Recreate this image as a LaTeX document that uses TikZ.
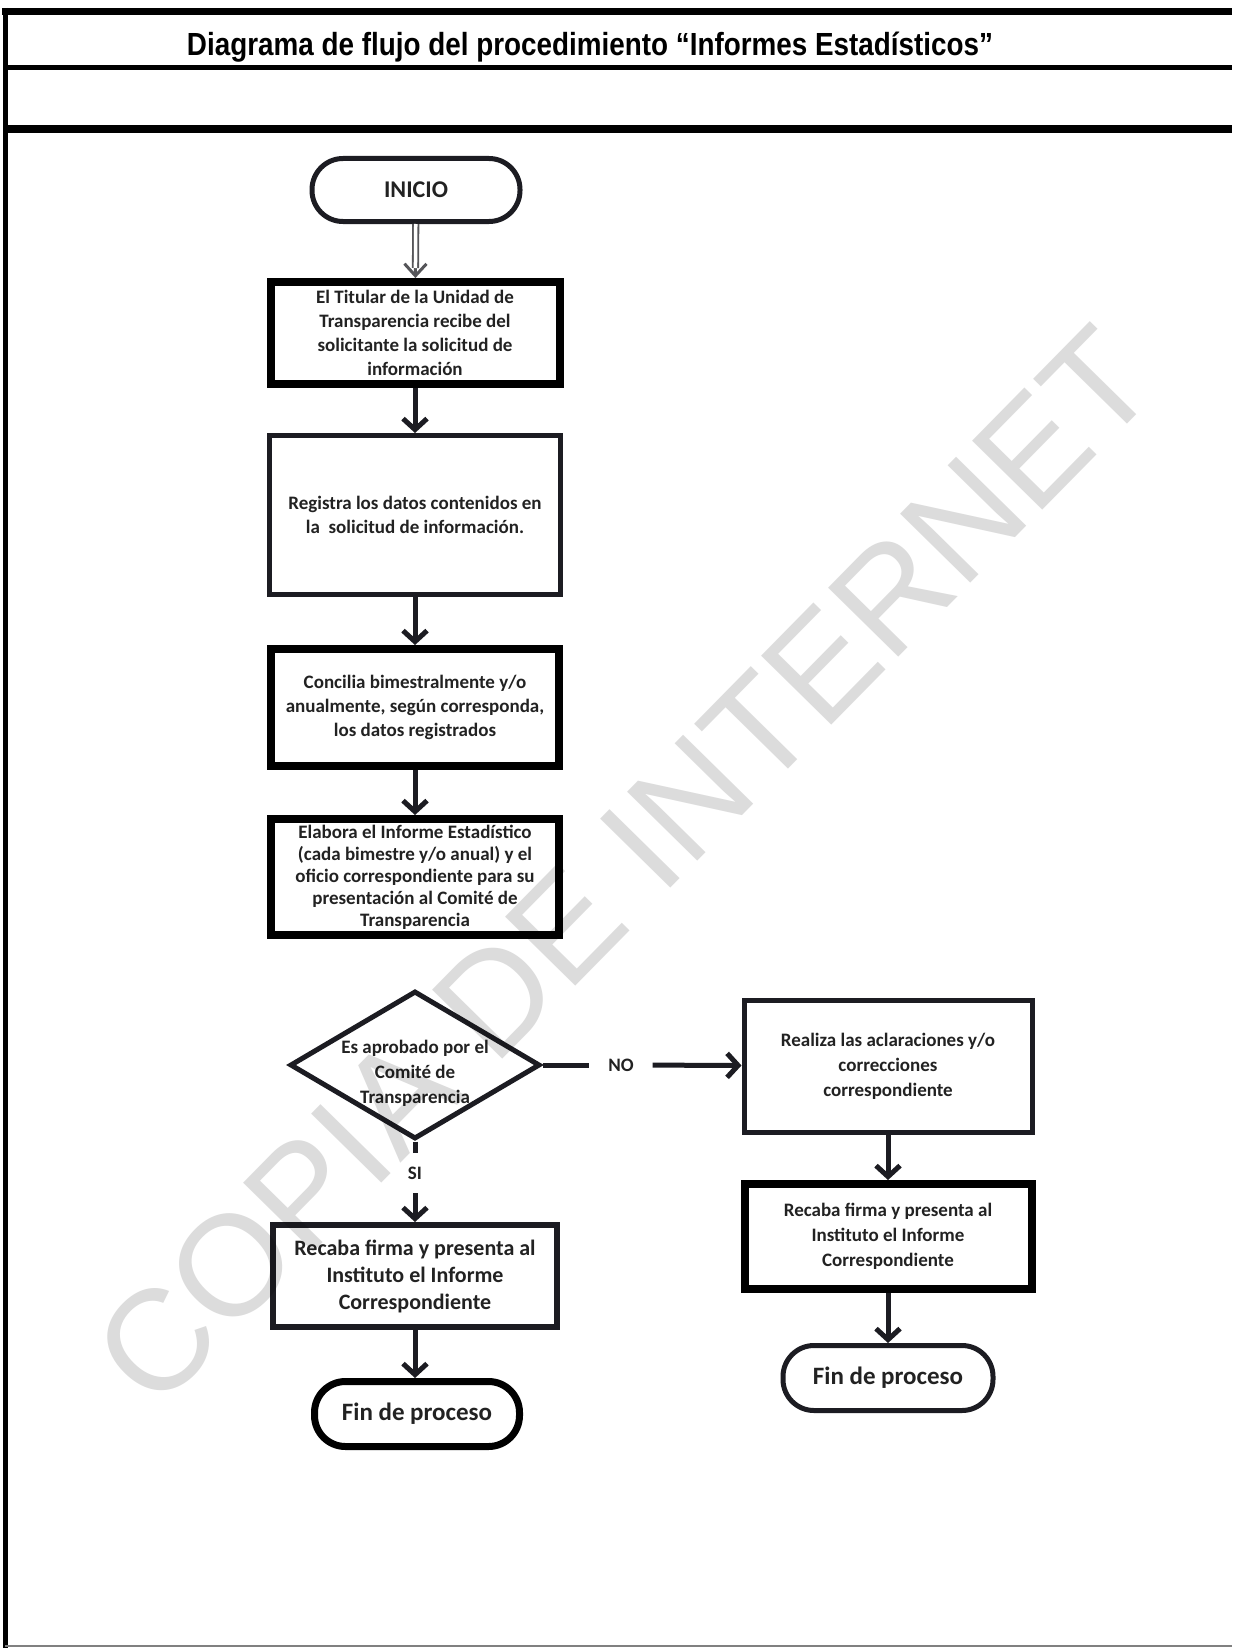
\documentclass[tikz,border=0pt]{standalone}
\usepackage{fontspec}
\usepackage{graphicx}
\setmainfont{Carlito}
\newfontfamily\headfont[FakeStretch=0.87]{Liberation Sans}
\newfontfamily\markfont{Liberation Sans}
\usetikzlibrary{arrows.meta,shapes.geometric}
\definecolor{ink}{HTML}{1C1C22}
\definecolor{txt}{HTML}{222222}
\definecolor{stamp}{HTML}{DCDCDC}

\begin{document}
\begin{tikzpicture}[x=1pt,y=-1pt,
  every node/.style={inner sep=0pt, align=center, text=txt},
  body/.style={font=\bfseries\fontsize{19}{24}\selectfont},
  proc/.style={draw=ink, rectangle, line width=5pt, body},
  heavyproc/.style={proc, draw=black, line width=8pt},
  term/.style={draw=ink, rectangle, line width=5pt, rounded corners=31pt,
    font=\bfseries\fontsize{25}{30}\selectfont},
  decision/.style={draw=ink, diamond, line width=5pt,
    minimum width=250pt, minimum height=148pt},
  flow/.style={draw=ink, line width=5pt, -{Straight Barb[length=11pt,width=24pt]}},
  flowplain/.style={draw=ink, line width=5pt},
  tag/.style={fill=white, font=\bfseries\fontsize{19}{24}\selectfont},
  rule/.style={draw=black, line cap=butt}]

\useasboundingbox (0,0) rectangle (1232,1648);
\fill[white] (0,0) rectangle (1232,1648);

% page frame and header rows
\draw[rule, line width=7pt] (2,11.5) -- (1232,11.5);
\draw[rule, line width=5pt] (5,68) -- (1232,68);
\draw[rule, line width=8pt] (5,129) -- (1232,129);
\draw[rule, line width=5pt] (5,8) -- (5,1648);
\draw[gray, line width=2pt] (5,1646) -- (1232,1646);

\node[anchor=base, text=black] (title) at (590,56)
  {\resizebox{806pt}{!}{\headfont\bfseries\fontsize{24}{28}\selectfont
   Diagrama de flujo del procedimiento “Informes Estadísticos”}};

% left column
\node[term, minimum width=208pt, minimum height=63pt,
  font=\bfseries\fontsize{24}{28}\selectfont] (inicio) at (416,190) {INICIO};

\node[heavyproc, minimum width=289pt, minimum height=102pt] (b1) at (415,333)
  {El Titular de la Unidad de\\Transparencia recibe del\\solicitante la solicitud de\\información};

\node[proc, minimum width=291pt, minimum height=159pt] (b2) at (415,515)
  {Registra los datos contenidos en\\la\ \ solicitud de información.};

\node[heavyproc, minimum width=288pt, minimum height=117pt] (b3) at (415,707.5)
  {Concilia bimestralmente y/o\\anualmente, según corresponda,\\los datos registrados};

\node[heavyproc, minimum width=288pt, minimum height=116pt,
  font=\bfseries\fontsize{19}{22}\selectfont] (b4) at (415,877)
  {Elabora el Informe Estadístico\\(cada bimestre y/o anual) y el\\oficio correspondiente para su\\presentación al Comité de\\Transparencia};

\node[decision] (d) at (415,1065) {};
\node[font=\bfseries\fontsize{19}{25}\selectfont] (dtext) at (415,1073)
  {Es aprobado por el\\Comité de\\Transparencia};

\node[proc, line width=6pt, minimum width=284pt, minimum height=102pt,
  font=\bfseries\fontsize{22}{27}\selectfont] (b6) at (415,1276)
  {Recaba firma y presenta al\\Instituto el Informe\\Correspondiente};

\node[term, line width=7pt, draw=black, minimum width=205pt, minimum height=65pt]
  (fin1) at (417,1414) {Fin de proceso};

% right column
\node[proc, minimum width=288pt, minimum height=132pt,
  font=\bfseries\fontsize{19}{25}\selectfont] (b5) at (888,1066)
  {Realiza las aclaraciones y/o\\correcciones\\correspondiente};

\node[heavyproc, minimum width=287pt, minimum height=105pt,
  font=\bfseries\fontsize{19}{25}\selectfont] (b7) at (888,1236.5)
  {Recaba firma y presenta al\\Instituto el Informe\\Correspondiente};

\node[term, minimum width=210pt, minimum height=65pt] (fin2) at (888,1378) {Fin de proceso};

% branch labels
\node[tag, minimum width=63pt, minimum height=39pt] (no) at (621,1065) {NO};
\node[tag, minimum width=46pt, minimum height=40pt] (si) at (415,1173) {SI};

% connectors (the first one has a hollow double shaft)
\draw[draw=ink!75, line width=3pt, -{Straight Barb[length=12pt,width=22pt]}] (inicio) -- (b1);
\draw[draw=ink!75, line width=1.8pt, double=white, double distance=3.5pt,
  shorten >=10pt] (inicio) -- (b1);
\draw[flow] (b1) -- (b2);
\draw[flow] (b2) -- (b3);
\draw[flow] (b3) -- (b4);
\draw[flowplain] (d.east) -- (no);
\draw[flow] (no) -- (b5);
\draw[flowplain] (d.south) -- (si);
\draw[flow] (si) -- (b6);
\draw[flow] (b6) -- (b6 |- fin1.north);
\draw[flow] (b5) -- (b7);
\draw[flow] (b7) -- (fin2);

% diagonal stamp
\begin{scope}[blend mode=multiply]
  \node[font=\markfont\fontsize{143}{150}\selectfont, text=stamp, rotate=45.5]
    (stamp) at (624,866) {COPIA DE INTERNET};
\end{scope}
\end{tikzpicture}
\end{document}
